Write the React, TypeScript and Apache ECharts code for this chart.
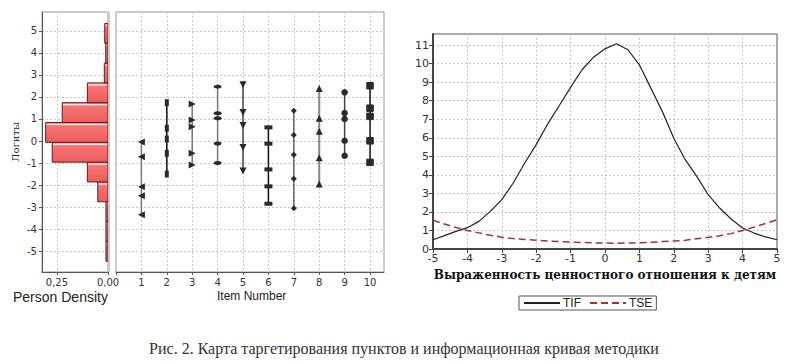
import React, { useEffect, useRef } from 'react';
import * as echarts from 'echarts';

// ---------- data ----------
const binEdgesLo = [-5.46, -4.56, -3.66, -2.76, -1.86, -0.96, -0.06, 0.84, 1.74, 2.64, 3.54, 4.44];
const binEdgesHi = [-4.56, -3.66, -2.76, -1.86, -0.96, -0.06, 0.84, 1.74, 2.64, 3.54, 4.44, 5.34];
const personDensity = [0.010, 0.010, 0.010, 0.050, 0.101, 0.273, 0.305, 0.224, 0.101, 0.018, 0.011, 0.016];

const itemNumbers = [1, 2, 3, 4, 5, 6, 7, 8, 9, 10];
const thresholds1 = [-0.05, -0.71, -2.08, -2.49, -3.35];
const thresholds2 = [1.74, 0.58, 0.09, -0.56, -1.5];
const thresholds3 = [1.68, 0.95, 0.65, -0.56, -1.09];
const thresholds4 = [2.47, 1.26, 1.03, -0.11, -1.0];
const thresholds5 = [2.55, 1.3, 0.7, -0.3, -1.36];
const thresholds6 = [0.62, -0.12, -1.29, -2.06, -2.85];
const thresholds7 = [1.38, 0.27, -0.62, -1.71, -3.05];
const thresholds8 = [2.39, 1.03, 0.44, -0.76, -1.95];
const thresholds9 = [2.21, 1.27, 1.0, 0.01, -0.67];
const thresholds10 = [2.51, 1.49, 1.12, 0.01, -0.97];
const allThresholds = [thresholds1, thresholds2, thresholds3, thresholds4, thresholds5,
  thresholds6, thresholds7, thresholds8, thresholds9, thresholds10];

const theta = [-5, -4.667, -4.333, -4, -3.667, -3.333, -3, -2.667, -2.333, -2, -1.667, -1.333, -1,
  -0.667, -0.333, 0, 0.333, 0.667, 1, 1.333, 1.667, 2, 2.333, 2.667, 3, 3.333, 3.667, 4, 4.333, 4.667, 5];
const tif = [0.5, 0.72, 0.95, 1.15, 1.49, 2.03, 2.66, 3.56, 4.64, 5.63, 6.74, 7.73, 8.72,
  9.67, 10.35, 10.8, 11.07, 10.75, 9.94, 8.68, 7.42, 5.98, 4.82, 3.92, 2.93, 2.21, 1.62, 1.13, 0.86, 0.65, 0.5];
const tse = [1.55, 1.35, 1.16, 1.0, 0.87, 0.74, 0.64, 0.56, 0.51, 0.47, 0.43, 0.4, 0.37,
  0.35, 0.33, 0.32, 0.31, 0.32, 0.33, 0.36, 0.4, 0.43, 0.47, 0.55, 0.63, 0.72, 0.83, 1.0, 1.18, 1.38, 1.58];

const itemSymbols = ['triangle', 'rect', 'triangle', 'circle', 'triangle', 'rect', 'diamond', 'triangle', 'circle', 'rect'];
const itemSymbolRotate = [90, 0, -90, 0, 180, 0, 0, 0, 0, 0];
const itemSymbolSize: any[] = [7, [4, 7], 7, [8, 4], 7, [8, 4], 6, 7, 6.5, 6.5];
const itemLineColors = ['#777', '#111', '#777', '#777', '#444', '#111', '#444', '#888', '#444', '#111'];
const itemLineWidths = [1.5, 1.5, 1.5, 1.5, 1.5, 1.5, 1.2, 2, 1.5, 1.5];

const gridDash = { color: '#c8c8c8', type: [2, 2] as any, width: 1 };
const tickFont = 'DejaVu Sans';

export default function App() {
  const ref = useRef<HTMLDivElement>(null);
  useEffect(() => {
    if (!ref.current) return;
    const chart = echarts.init(ref.current, null, { renderer: 'svg' });

    const barFill = new echarts.graphic.LinearGradient(0, 0, 0, 1, [
      { offset: 0, color: '#ffa0a0' },
      { offset: 0.2, color: '#f87474' },
      { offset: 1, color: '#ea5c5c' },
    ]);

    const histData = binEdgesLo.map((lo, i) => [lo, binEdgesHi[i], personDensity[i]]);

    const itemSeries = itemNumbers.map((n, i) => ({
      type: 'line',
      xAxisIndex: 1,
      yAxisIndex: 1,
      data: allThresholds[i].map((v) => [n, v]),
      symbol: itemSymbols[i],
      symbolRotate: itemSymbolRotate[i],
      symbolSize: itemSymbolSize[i],
      showSymbol: true,
      lineStyle: { color: itemLineColors[i], width: itemLineWidths[i] },
      itemStyle: { color: '#2a2a2a', borderColor: '#2a2a2a', borderWidth: i === 9 ? 1 : 0 },
      silent: true,
      z: 3,
    }));

    const option: any = {
      animation: false,
      backgroundColor: '#fff',
      grid: [
        { left: 42, top: 12, width: 66, height: 260, show: true, borderColor: '#999', borderWidth: 1, backgroundColor: 'transparent' },
        { left: 116, top: 12, width: 268, height: 260, show: true, borderColor: '#999', borderWidth: 1, backgroundColor: 'transparent' },
        { left: 433, top: 34, width: 344, height: 215, show: true, borderColor: '#555', borderWidth: 1, backgroundColor: 'transparent' },
      ],
      xAxis: [
        {
          gridIndex: 0, type: 'value', inverse: true, min: 0, max: 0.323, interval: 0.25,
          axisLine: { show: true, onZero: false, lineStyle: { color: '#555' } },
          axisTick: { show: true, length: 3, lineStyle: { color: '#555' } },
          axisLabel: { fontSize: 10, fontFamily: tickFont, color: '#333', margin: 5, showMaxLabel: false,
            formatter: (v: number) => v.toFixed(2).replace('.', ',') },
          splitLine: { show: true, lineStyle: gridDash, showMinLine: false, showMaxLine: false },
        },
        {
          gridIndex: 1, type: 'value', min: 0, max: 10.55, interval: 1,
          axisLine: { show: true, onZero: false, lineStyle: { color: '#555' } },
          axisTick: { show: true, length: 3, lineStyle: { color: '#555' } },
          axisLabel: { fontSize: 10, fontFamily: tickFont, color: '#333', margin: 5, showMaxLabel: false,
            formatter: (v: number) => (v === 0 ? '' : String(v)) },
          splitLine: { show: true, lineStyle: gridDash, showMinLine: false, showMaxLine: false },
        },
        {
          gridIndex: 2, type: 'value', min: -5, max: 5, interval: 1,
          name: 'Выраженность ценностного отношения к детям',
          nameLocation: 'middle', nameGap: 18,
          nameTextStyle: { fontFamily: 'DejaVu Serif', fontWeight: 'bold', fontSize: 12, color: '#111' },
          axisLine: { show: true, onZero: false, lineStyle: { color: '#444', width: 2 } },
          axisTick: { show: true, length: 4, lineStyle: { color: '#444' } },
          axisLabel: { fontSize: 11, fontFamily: tickFont, color: '#333', margin: 4 },
          splitLine: { show: true, lineStyle: gridDash, showMinLine: false, showMaxLine: false },
        },
      ],
      yAxis: [
        {
          gridIndex: 0, type: 'value', min: -5.95, max: 5.86, splitNumber: 12,
          name: 'Логиты', nameLocation: 'middle', nameGap: 22, nameRotate: 90,
          nameTextStyle: { fontFamily: 'DejaVu Serif', fontSize: 10, color: '#222' },
          axisLine: { show: true, onZero: false, lineStyle: { color: '#555' } },
          axisTick: { show: true, length: 3, lineStyle: { color: '#555' } },
          axisLabel: { fontSize: 10, fontFamily: tickFont, color: '#333', margin: 5, showMinLabel: false, showMaxLabel: false },
          splitLine: { show: true, lineStyle: gridDash, showMinLine: false, showMaxLine: false },
        },
        {
          gridIndex: 1, type: 'value', min: -5.95, max: 5.86, splitNumber: 12,
          axisLine: { show: false, onZero: false },
          axisTick: { show: false },
          axisLabel: { show: false },
          splitLine: { show: true, lineStyle: gridDash, showMinLine: false, showMaxLine: false },
        },
        {
          gridIndex: 2, type: 'value', min: 0, max: 11.6, interval: 1,
          axisLine: { show: true, onZero: false, lineStyle: { color: '#444', width: 2 } },
          axisTick: { show: true, length: 4, lineStyle: { color: '#444' } },
          axisLabel: { fontSize: 11, fontFamily: tickFont, color: '#333', margin: 4, showMaxLabel: false },
          splitLine: { show: true, lineStyle: gridDash, showMinLine: false, showMaxLine: false },
        },
      ],
      legend: {
        left: 519, top: 296, orient: 'horizontal',
        data: ['TIF', 'TSE'],
        selectedMode: false,
        borderColor: '#555', borderWidth: 1, borderRadius: 0,
        padding: [1, 4, 1, 4], itemGap: 8, itemWidth: 36, itemHeight: 10,
        itemStyle: { opacity: 0 },
        textStyle: { fontFamily: 'Liberation Sans', fontSize: 12, color: '#222', padding: [0, 0, 0, -2] },
      },
      series: [
        {
          type: 'custom',
          xAxisIndex: 0, yAxisIndex: 0,
          data: histData,
          encode: { x: 2, y: [0, 1] },
          clip: true,
          silent: true,
          renderItem: (params: any, api: any) => {
            const lo = api.value(0), hi = api.value(1), d = api.value(2);
            const p1 = api.coord([d, hi]);
            const p2 = api.coord([0, lo]);
            const x = Math.min(p1[0], p2[0]);
            const y = Math.min(p1[1], p2[1]);
            const w = Math.abs(p2[0] - p1[0]);
            const h = Math.abs(p2[1] - p1[1]);
            return {
              type: 'group',
              children: [
                { type: 'rect', shape: { x, y, width: w, height: h }, style: { fill: barFill, stroke: '#5a1e1e', lineWidth: 1 } },
                { type: 'line', shape: { x1: x + 1, y1: y + 2, x2: x + w - 1, y2: y + 2 }, style: { stroke: 'rgba(255,255,255,0.85)', lineWidth: 1.2 } },
              ],
            };
          },
        },
        ...itemSeries,
        {
          name: 'TIF', type: 'line', xAxisIndex: 2, yAxisIndex: 2,
          data: theta.map((t, i) => [t, tif[i]]),
          symbol: 'none', silent: true,
          lineStyle: { color: '#222', width: 1.2 },
          itemStyle: { color: '#222' },
        },
        {
          name: 'TSE', type: 'line', xAxisIndex: 2, yAxisIndex: 2,
          data: theta.map((t, i) => [t, tse[i]]),
          symbol: 'none', silent: true,
          lineStyle: { color: '#a83232', width: 1.5, type: [7, 4] },
          itemStyle: { color: '#a83232' },
        },
      ],
      graphic: [
        { type: 'rect', left: 108, top: 12, shape: { width: 2, height: 260 }, style: { fill: '#c8c8c8' }, silent: true },
        { type: 'text', left: 13, top: 290, style: { text: 'Person Density', font: '14px "Liberation Sans"', fill: '#222' }, silent: true },
        { type: 'text', left: 217, top: 290, style: { text: 'Item Number', font: '12px "Liberation Sans"', fill: '#222' }, silent: true },
        {
          type: 'text', x: 404, y: 348, silent: true,
          style: {
            text: 'Рис. 2. Карта таргетирования пунктов и информационная кривая методики',
            font: '16px "Liberation Serif"', fill: '#333', align: 'center', verticalAlign: 'middle',
          },
        },
      ],
    };
    chart.setOption(option);
    return () => chart.dispose();
  }, []);
  return <div ref={ref} style={{ position: 'fixed', left: 0, top: 0, width: 786, height: 364, background: '#fff' }} />;
}
